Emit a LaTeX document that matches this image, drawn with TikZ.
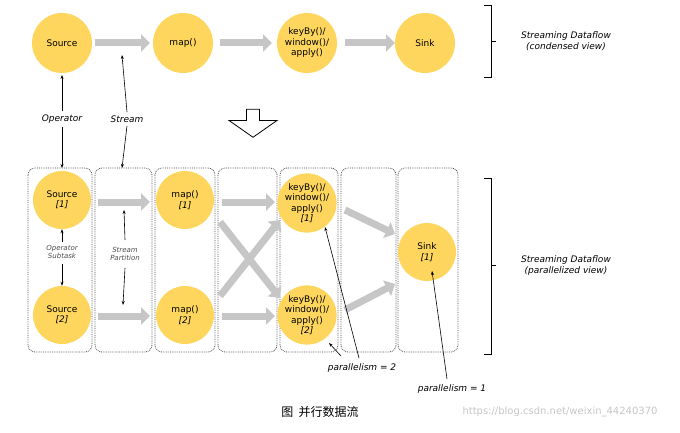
\documentclass[tikz,border=0pt]{standalone}
\usepackage{fontspec}
\setmainfont{DejaVu Sans}
\newfontfamily\cjk{Noto Sans CJK SC}
\usetikzlibrary{arrows.meta,shapes.arrows}
\begin{document}
\begin{tikzpicture}[x=1pt,y=-1pt,
  op/.style={circle,fill=myyel,minimum size=60pt,inner sep=0pt,align=center,font=\fontsize{9}{10.5}\selectfont},
  flow/.style={draw=gray!45,line width=7pt,-{Triangle[length=9pt,width=17pt]}},
  box/.style={draw=black!70,densely dotted,rounded corners=7pt,thick},
  lbl/.style={font=\fontsize{9}{11}\selectfont\itshape,align=center},
  slbl/.style={font=\fontsize{7}{8.5}\selectfont\itshape,align=center,text=black!70},
  ptr/.style={-{Stealth[length=4pt,width=3pt]},semithick}]
\definecolor{myyel}{RGB}{254,214,94}
\useasboundingbox (0,0) rectangle (680,433);
% top row
\node[op] (s) at (62,43) {Source};
\node[op] (m) at (183,43) {map()};
\node[op] (k) at (307,43) {keyBy()/\\window()/\\apply()};
\node[op] (t) at (425,43) {Sink};
\draw[flow] (95,43) -- (150,43);
\draw[flow] (220,43) -- (272,43);
\draw[flow] (345,43) -- (395,43);
\draw[thick] (484,5) -- (491,5) -- (491,77) -- (484,77);
\draw[thick] (491,41) -- (496,41);
\node[lbl] (tv) at (566,41) {Streaming Dataflow\\(condensed view)};
\node[lbl] (opl) at (62,119) {Operator};
\node[lbl] (stl) at (127,119) {Stream};
\coordinate (opt) at (62,75); \coordinate (opb) at (62,168);
\coordinate (stt) at (122,55); \coordinate (stb) at (122,168);
\draw[ptr] (opl.north) -- (opt);
\draw[ptr] (opl.south) -- (opb);
\draw[ptr] (stl.north) -- (stt);
\draw[ptr] (stl.south) -- (stb);
\node[single arrow,draw,thick,fill=white,shape border rotate=270,minimum height=28pt,minimum width=48pt,single arrow head extend=10pt,single arrow tip angle=110] (ha) at (253,121) {};
% boxes
\draw[box] (28,168) rectangle (92,352);
\draw[box] (95,168) rectangle (152,352);
\draw[box] (155,168) rectangle (215,352);
\draw[box] (218,168) rectangle (277,352);
\draw[box] (280,168) rectangle (338,352);
\draw[box] (341,168) rectangle (396,352);
\draw[box] (398,168) rectangle (458,352);
% bottom nodes
\node[op,minimum size=58pt] (s1) at (62,200) {Source\\\textit{[1]}};
\node[op,minimum size=58pt] (s2) at (62,315) {Source\\\textit{[2]}};
\node[op,minimum size=58pt] (m1) at (185,200) {map()\\\textit{[1]}};
\node[op,minimum size=58pt] (m2) at (185,315) {map()\\\textit{[2]}};
\node[op,minimum size=58pt] (k1) at (307,203) {keyBy()/\\window()/\\apply()\\\textit{[1]}};
\node[op,minimum size=58pt] (k2) at (307,315) {keyBy()/\\window()/\\apply()\\\textit{[2]}};
\node[op,minimum size=58pt] (t1) at (427,252) {Sink\\\textit{[1]}};
\draw[flow] (98,202) -- (150,202);
\draw[flow] (98,316) -- (150,316);
\draw[flow] (222,202) -- (275,202);
\draw[flow] (222,316) -- (275,316);
\draw[flow] (220,222) -- (280,298);
\draw[flow] (220,296) -- (280,220);
\draw[flow] (345,210) -- (395,234);
\draw[flow] (345,310) -- (395,284);
\node[slbl] (ost) at (62,252) {Operator\\Subtask};
\node[slbl] (spt) at (125,254) {Stream\\Partition};
\draw[ptr] (62,242) -- (s1.south);
\draw[ptr] (62,264) -- (s2.north);
\draw[ptr] (125,240) -- (124,210);
\draw[ptr] (125,268) -- (123,305);
\node[lbl] (p2) at (362,368) {parallelism = 2};
\node[lbl] (p1) at (452,389) {parallelism = 1};
\draw[ptr] (359,358) -- (325,227);
\draw[ptr] (341,356) -- (329,343);
\draw[ptr] (447,379) -- (432,271);
\draw[thick] (484,178) -- (491,178) -- (491,354) -- (484,354);
\draw[thick] (491,265) -- (496,265);
\node[lbl] (pv) at (566,266) {Streaming Dataflow\\(parallelized view)};
\node[font=\cjk\fontsize{12}{14}\selectfont] (cap) at (320,412) {图\ \ 并行数据流};
\node[text=gray!45,font=\fontsize{10}{12}\selectfont] (wm) at (560,412) {https://blog.csdn.net/weixin\_44240370};
\end{tikzpicture}
\end{document}
